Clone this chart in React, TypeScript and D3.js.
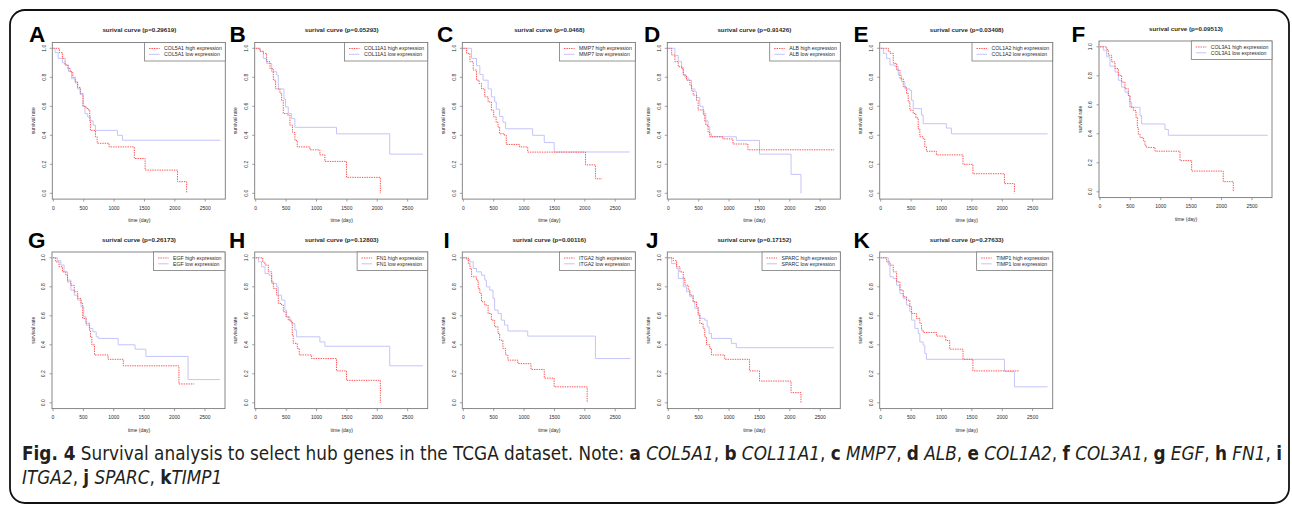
import React, { useEffect, useRef } from 'react';
import * as d3 from 'd3';

const W = 1292, H = 506;

const panelLetters = ['A', 'B', 'C', 'D', 'E', 'F', 'G', 'H', 'I', 'J', 'K'];
const genes = ['COL5A1', 'COL11A1', 'MMP7', 'ALB', 'COL1A2', 'COL3A1', 'EGF', 'FN1', 'ITGA2', 'SPARC', 'TIMP1'];
const pValues = ['0.29619', '0.05293', '0.0468', '0.91426', '0.03408', '0.09513', '0.26173', '0.12803', '0.00116', '0.17152', '0.27633'];

const timeTicks = [0, 500, 1000, 1500, 2000, 2500];
const rateTicks = [0, 0.2, 0.4, 0.6, 0.8, 1.0];

// [day, survival rate] at each step
const COL5A1_high = [[0,1],[100,0.97],[150,0.93],[194,0.885],[240,0.86],[278,0.838],[320,0.8],[361,0.769],[400,0.73],[444,0.688],[489,0.6],[540,0.585],[583,0.573],[600,0.5],[610,0.434],[694,0.39],[722,0.345],[917,0.32],[1333,0.24],[1511,0.16],[2044,0.08],[2194,0]];
const COL5A1_low = [[0,1],[30,0.97],[80,0.93],[150,0.9],[194,0.885],[250,0.84],[300,0.79],[361,0.76],[400,0.72],[444,0.68],[490,0.6],[520,0.55],[565,0.527],[610,0.5],[655,0.47],[694,0.434],[1055,0.4],[1139,0.366],[2750,0.366]];
const COL11A1_high = [[0,1],[71,0.98],[126,0.965],[180,0.908],[235,0.86],[290,0.78],[328,0.72],[399,0.69],[427,0.64],[454,0.55],[520,0.54],[563,0.47],[607,0.42],[645,0.365],[684,0.32],[892,0.3],[1056,0.265],[1138,0.22],[1493,0.11],[2051,0]];
const COL11A1_low = [[0,1],[71,0.977],[126,0.93],[180,0.896],[263,0.838],[345,0.815],[372,0.72],[465,0.65],[490,0.596],[536,0.55],[591,0.515],[645,0.455],[1329,0.41],[2205,0.27],[2750,0.27]];
const MMP7_high = [[0,1],[54,0.965],[109,0.908],[163,0.85],[217,0.78],[260,0.757],[299,0.72],[353,0.665],[408,0.63],[462,0.573],[500,0.527],[540,0.49],[571,0.457],[598,0.41],[679,0.4],[707,0.337],[924,0.32],[1060,0.284],[2011,0.196],[2174,0.1],[2283,0.1]];
const MMP7_low = [[0,1],[136,0.93],[217,0.88],[272,0.82],[326,0.78],[408,0.72],[462,0.665],[516,0.63],[543,0.58],[598,0.53],[652,0.49],[696,0.445],[1141,0.4],[1332,0.35],[1495,0.285],[2740,0.285]];
const ALB_high = [[0,1],[55,0.954],[109,0.908],[164,0.873],[218,0.86],[246,0.815],[300,0.78],[355,0.746],[382,0.71],[409,0.677],[464,0.642],[491,0.575],[584,0.54],[600,0.5],[617,0.47],[655,0.42],[682,0.39],[901,0.375],[1064,0.34],[1310,0.3],[2729,0.3]];
const ALB_low = [[0,1],[109,0.95],[164,0.91],[218,0.87],[246,0.82],[273,0.8],[328,0.78],[382,0.72],[437,0.7],[464,0.66],[519,0.6],[573,0.55],[617,0.5],[655,0.46],[682,0.41],[710,0.39],[1119,0.365],[1501,0.27],[2020,0.13],[2183,0]];
const COL1A2_high = [[0,1],[126,0.98],[153,0.965],[207,0.896],[262,0.85],[317,0.79],[371,0.734],[426,0.688],[453,0.63],[480,0.573],[535,0.55],[579,0.52],[617,0.445],[644,0.39],[699,0.376],[726,0.32],[753,0.29],[917,0.265],[1354,0.2],[1517,0.135],[2036,0.067],[2200,0]];
const COL1A2_low = [[0,1],[44,0.965],[98,0.93],[153,0.885],[235,0.873],[289,0.815],[344,0.77],[398,0.72],[480,0.71],[508,0.642],[535,0.584],[671,0.54],[699,0.48],[1081,0.45],[1163,0.41],[2746,0.41]];
const COL3A1_high = [[0,1],[110,0.98],[137,0.942],[192,0.896],[247,0.85],[302,0.803],[356,0.757],[411,0.711],[466,0.664],[493,0.583],[548,0.56],[592,0.514],[614,0.444],[630,0.398],[658,0.375],[713,0.352],[740,0.317],[768,0.306],[905,0.28],[1316,0.215],[1508,0.143],[2028,0.07],[2193,0]];
const COL3A1_low = [[0,1],[55,0.977],[110,0.93],[164,0.866],[247,0.826],[302,0.769],[356,0.722],[411,0.687],[466,0.664],[493,0.618],[521,0.583],[658,0.525],[685,0.468],[1069,0.43],[1124,0.39],[2760,0.39]];
const EGF_high = [[0,1],[44,0.972],[100,0.938],[156,0.903],[211,0.88],[239,0.834],[294,0.81],[350,0.766],[406,0.72],[461,0.685],[489,0.582],[544,0.549],[600,0.5],[617,0.455],[639,0.4],[683,0.33],[906,0.3],[1156,0.255],[2072,0.13],[2322,0.13]];
const EGF_low = [[0,1],[72,0.98],[128,0.95],[183,0.903],[239,0.846],[294,0.777],[350,0.742],[406,0.708],[461,0.662],[506,0.593],[544,0.536],[600,0.513],[656,0.49],[711,0.455],[750,0.444],[1072,0.4],[1350,0.37],[1528,0.32],[2222,0.16],[2750,0.16]];
const FN1_high = [[0,1],[115,0.97],[153,0.95],[208,0.903],[263,0.834],[290,0.789],[345,0.742],[372,0.685],[427,0.674],[454,0.628],[498,0.593],[536,0.57],[580,0.559],[602,0.467],[618,0.41],[684,0.375],[717,0.33],[919,0.305],[1329,0.22],[1493,0.155],[2051,0]];
const FN1_low = [[0,1],[44,0.972],[98,0.938],[153,0.892],[220,0.88],[263,0.823],[345,0.8],[372,0.742],[427,0.708],[481,0.639],[509,0.593],[563,0.57],[591,0.547],[645,0.501],[673,0.455],[1056,0.42],[1138,0.39],[2205,0.255],[2750,0.255]];
const ITGA2_high = [[0,1],[82,0.96],[109,0.926],[136,0.869],[217,0.846],[245,0.789],[272,0.754],[299,0.697],[353,0.674],[408,0.616],[462,0.57],[516,0.524],[571,0.478],[598,0.432],[652,0.375],[696,0.33],[734,0.294],[897,0.27],[1114,0.23],[1332,0.17],[1495,0.11],[2038,0]];
const ITGA2_low = [[0,1],[54,0.988],[109,0.972],[163,0.926],[217,0.903],[299,0.88],[353,0.846],[380,0.8],[435,0.777],[489,0.72],[516,0.639],[571,0.616],[625,0.57],[679,0.536],[734,0.495],[1060,0.46],[2174,0.305],[2750,0.305]];
const SPARC_high = [[0,1],[82,0.98],[136,0.938],[191,0.903],[246,0.857],[273,0.811],[328,0.777],[355,0.742],[409,0.697],[464,0.662],[491,0.605],[519,0.547],[573,0.513],[600,0.455],[628,0.4],[682,0.375],[710,0.33],[928,0.3],[1337,0.22],[1501,0.15],[2020,0.07],[2183,0]];
const SPARC_low = [[0,1],[55,0.96],[136,0.926],[164,0.857],[246,0.8],[300,0.766],[355,0.731],[409,0.697],[437,0.651],[491,0.616],[519,0.582],[600,0.57],[639,0.524],[671,0.478],[710,0.444],[1037,0.41],[1119,0.38],[2729,0.38]];
const TIMP1_high = [[0,1],[98,0.972],[153,0.95],[207,0.903],[262,0.834],[317,0.777],[371,0.731],[426,0.708],[480,0.662],[508,0.616],[590,0.582],[644,0.547],[671,0.501],[699,0.485],[917,0.46],[1070,0.43],[1135,0.37],[1354,0.3],[1517,0.22],[2282,0.22]];
const TIMP1_low = [[0,1],[126,0.95],[153,0.869],[207,0.857],[262,0.811],[317,0.754],[371,0.72],[426,0.674],[480,0.628],[508,0.57],[562,0.513],[617,0.478],[644,0.42],[699,0.398],[726,0.34],[753,0.3],[2036,0.215],[2200,0.11],[2746,0.11]];

const highCurves = [COL5A1_high, COL11A1_high, MMP7_high, ALB_high, COL1A2_high, COL3A1_high, EGF_high, FN1_high, ITGA2_high, SPARC_high, TIMP1_high];
const lowCurves = [COL5A1_low, COL11A1_low, MMP7_low, ALB_low, COL1A2_low, COL3A1_low, EGF_low, FN1_low, ITGA2_low, SPARC_low, TIMP1_low];

const captionLead = ' Survival analysis to select hub genes in the TCGA dataset. Note: ';

// where each small plot sits on the page (x of day 0, top of plot box, panel letter position)
const layout = [
  { x0: 53.3, top: 42.5, lx: 29, ly: 42.3 },
  { x0: 255.7, top: 42.5, lx: 229.5, ly: 42.3 },
  { x0: 463.3, top: 42.5, lx: 437, ly: 42.3 },
  { x0: 668.3, top: 42.5, lx: 644, ly: 42.3 },
  { x0: 880.7, top: 42.5, lx: 853.5, ly: 42.3 },
  { x0: 1100, top: 41, lx: 1071.5, ly: 41.7 },
  { x0: 53, top: 252, lx: 28, ly: 248 },
  { x0: 255.7, top: 252, lx: 229, ly: 248 },
  { x0: 463.3, top: 252, lx: 443.5, ly: 248 },
  { x0: 668.3, top: 252, lx: 646, ly: 248 },
  { x0: 880.7, top: 252, lx: 853.5, ly: 248 },
];

const RED = '#ff5252';
const BLUE = '#c4c4fa';
const AXIS = '#7a7a7a';
const TXT = '#2a2a2a';
const FONT = '"Liberation Sans", Arial, sans-serif';
const CAP_FONT = '"DejaVu Sans Condensed", "Liberation Sans Narrow", "Open Sans", sans-serif';

export default function App() {
  const ref = useRef<HTMLDivElement>(null);

  useEffect(() => {
    if (!ref.current) return;
    const root = d3.select(ref.current);
    root.selectAll('*').remove();

    const svg = root.append('svg')
      .attr('width', W)
      .attr('height', H)
      .style('position', 'absolute')
      .style('left', 0)
      .style('top', 0)
      .style('background', '#fff');

    // outer frame
    svg.append('rect')
      .attr('x', 10).attr('y', 10)
      .attr('width', 1279).attr('height', 493)
      .attr('rx', 15)
      .attr('fill', 'none')
      .attr('stroke', '#111')
      .attr('stroke-width', 1.8);

    const boxH = 156.6;
    const x = d3.scaleLinear().domain([0, 2830]).range([0, 172]);
    const y = d3.scaleLinear().domain([-0.04, 1.04]).range([boxH, 0]);
    const line = d3.line<number[]>()
      .x(d => x(d[0]))
      .y(d => y(d[1]))
      .curve(d3.curveStepAfter);

    genes.forEach((gene, i) => {
      const pos = layout[i];

      svg.append('text')
        .attr('x', pos.lx).attr('y', pos.ly)
        .attr('font-family', FONT)
        .attr('font-weight', 'bold')
        .attr('font-size', 22.5)
        .attr('fill', '#000')
        .text(panelLetters[i]);

      const g = svg.append('g').attr('transform', `translate(${pos.x0},${pos.top})`);

      g.append('text')
        .attr('x', 86).attr('y', -10.3)
        .attr('text-anchor', 'middle')
        .attr('font-family', FONT)
        .attr('font-weight', 'bold')
        .attr('font-size', 6.2)
        .attr('fill', TXT)
        .text(`surival curve (p=${pValues[i]})`);

      // curves
      g.append('path')
        .datum(lowCurves[i])
        .attr('fill', 'none')
        .attr('stroke', BLUE)
        .attr('stroke-width', 1)
        .attr('d', line);
      g.append('path')
        .datum(highCurves[i])
        .attr('fill', 'none')
        .attr('stroke', RED)
        .attr('stroke-width', 1)
        .attr('stroke-dasharray', '1.4 1')
        .attr('d', line);

      // box
      g.append('rect')
        .attr('x', -1).attr('y', 0)
        .attr('width', 173).attr('height', boxH)
        .attr('fill', 'none')
        .attr('stroke', AXIS)
        .attr('stroke-width', 0.9);

      // x axis
      timeTicks.forEach(t => {
        g.append('line')
          .attr('x1', x(t)).attr('x2', x(t))
          .attr('y1', boxH).attr('y2', boxH + 2.5)
          .attr('stroke', AXIS).attr('stroke-width', 0.7);
        g.append('text')
          .attr('x', x(t)).attr('y', boxH + 10.6)
          .attr('text-anchor', 'middle')
          .attr('font-family', FONT)
          .attr('font-size', 5)
          .attr('fill', TXT)
          .text(t);
      });
      g.append('text')
        .attr('x', 86).attr('y', boxH + 23)
        .attr('text-anchor', 'middle')
        .attr('font-family', FONT)
        .attr('font-size', 5)
        .attr('fill', TXT)
        .text('time (day)');

      // y axis
      rateTicks.forEach(r => {
        g.append('line')
          .attr('x1', -1).attr('x2', -3.5)
          .attr('y1', y(r)).attr('y2', y(r))
          .attr('stroke', AXIS).attr('stroke-width', 0.7);
        g.append('text')
          .attr('transform', `translate(-7.6,${y(r)}) rotate(-90)`)
          .attr('text-anchor', 'middle')
          .attr('font-family', FONT)
          .attr('font-size', 5)
          .attr('fill', TXT)
          .text(d3.format('.1f')(r));
      });
      g.append('text')
        .attr('transform', `translate(-18.5,${boxH / 2}) rotate(-90)`)
        .attr('text-anchor', 'middle')
        .attr('font-family', FONT)
        .attr('font-size', 5)
        .attr('fill', TXT)
        .text('survival rate');

      // legend
      const leg = g.append('g');
      const t1 = leg.append('text')
        .attr('y', 7.9)
        .attr('font-family', FONT).attr('font-size', 5.2).attr('fill', TXT)
        .text(`${gene} high expression`);
      const t2 = leg.append('text')
        .attr('y', 13.7)
        .attr('font-family', FONT).attr('font-size', 5.2).attr('fill', TXT)
        .text(`${gene} low expression`);
      const tw = Math.max(
        (t1.node() as SVGTextElement).getComputedTextLength(),
        (t2.node() as SVGTextElement).getComputedTextLength()
      );
      const lw = tw + 23;
      const lx = 172 - lw;
      leg.insert('rect', ':first-child')
        .attr('x', lx).attr('y', 0)
        .attr('width', lw).attr('height', 18.5)
        .attr('fill', '#fff')
        .attr('stroke', AXIS)
        .attr('stroke-width', 0.8);
      t1.attr('x', lx + 19.5);
      t2.attr('x', lx + 19.5);
      leg.append('line')
        .attr('x1', lx + 4.5).attr('x2', lx + 15)
        .attr('y1', 6).attr('y2', 6)
        .attr('stroke', RED).attr('stroke-width', 1)
        .attr('stroke-dasharray', '1.4 1');
      leg.append('line')
        .attr('x1', lx + 4.5).attr('x2', lx + 15)
        .attr('y1', 11.8).attr('y2', 11.8)
        .attr('stroke', BLUE).attr('stroke-width', 1);
    });

    // caption: font size chosen so each line spans the printed width
    const capLine = (baseline: number, width: number, build: (t: any) => void) => {
      const t = svg.append('text')
        .attr('x', 22).attr('y', baseline)
        .attr('font-family', CAP_FONT)
        .attr('font-size', 19)
        .attr('fill', '#231f20')
        .style('white-space', 'pre');
      build(t);
      return t;
    };

    const line1 = capLine(460, 1261, t => {
      t.append('tspan').attr('font-weight', 'bold').text('Fig. 4');
      t.append('tspan').text(captionLead);
      genes.forEach((gene, i) => {
        const letter = panelLetters[i].toLowerCase();
        if (i < 8) {
          t.append('tspan').attr('font-weight', 'bold').text(letter);
          t.append('tspan').attr('font-style', 'italic').text(' ' + gene);
          t.append('tspan').text(', ');
        } else if (i === 8) {
          t.append('tspan').attr('font-weight', 'bold').text(letter);
        }
      });
    });
    const natural = (line1.node() as SVGTextElement).getComputedTextLength();
    const capSize = Math.min(19, 19 * 1261 / natural);
    line1.attr('font-size', capSize);

    capLine(484, 185, t => {
      t.append('tspan').attr('font-style', 'italic').text(genes[8]);
      t.append('tspan').text(', ');
      t.append('tspan').attr('font-weight', 'bold').text(panelLetters[9].toLowerCase());
      t.append('tspan').attr('font-style', 'italic').text(' ' + genes[9]);
      t.append('tspan').text(', ');
      t.append('tspan').attr('font-weight', 'bold').text(panelLetters[10].toLowerCase());
      t.append('tspan').attr('font-style', 'italic').text(genes[10]);
    }).attr('font-size', capSize);
  }, []);

  return <div ref={ref}></div>;
}
